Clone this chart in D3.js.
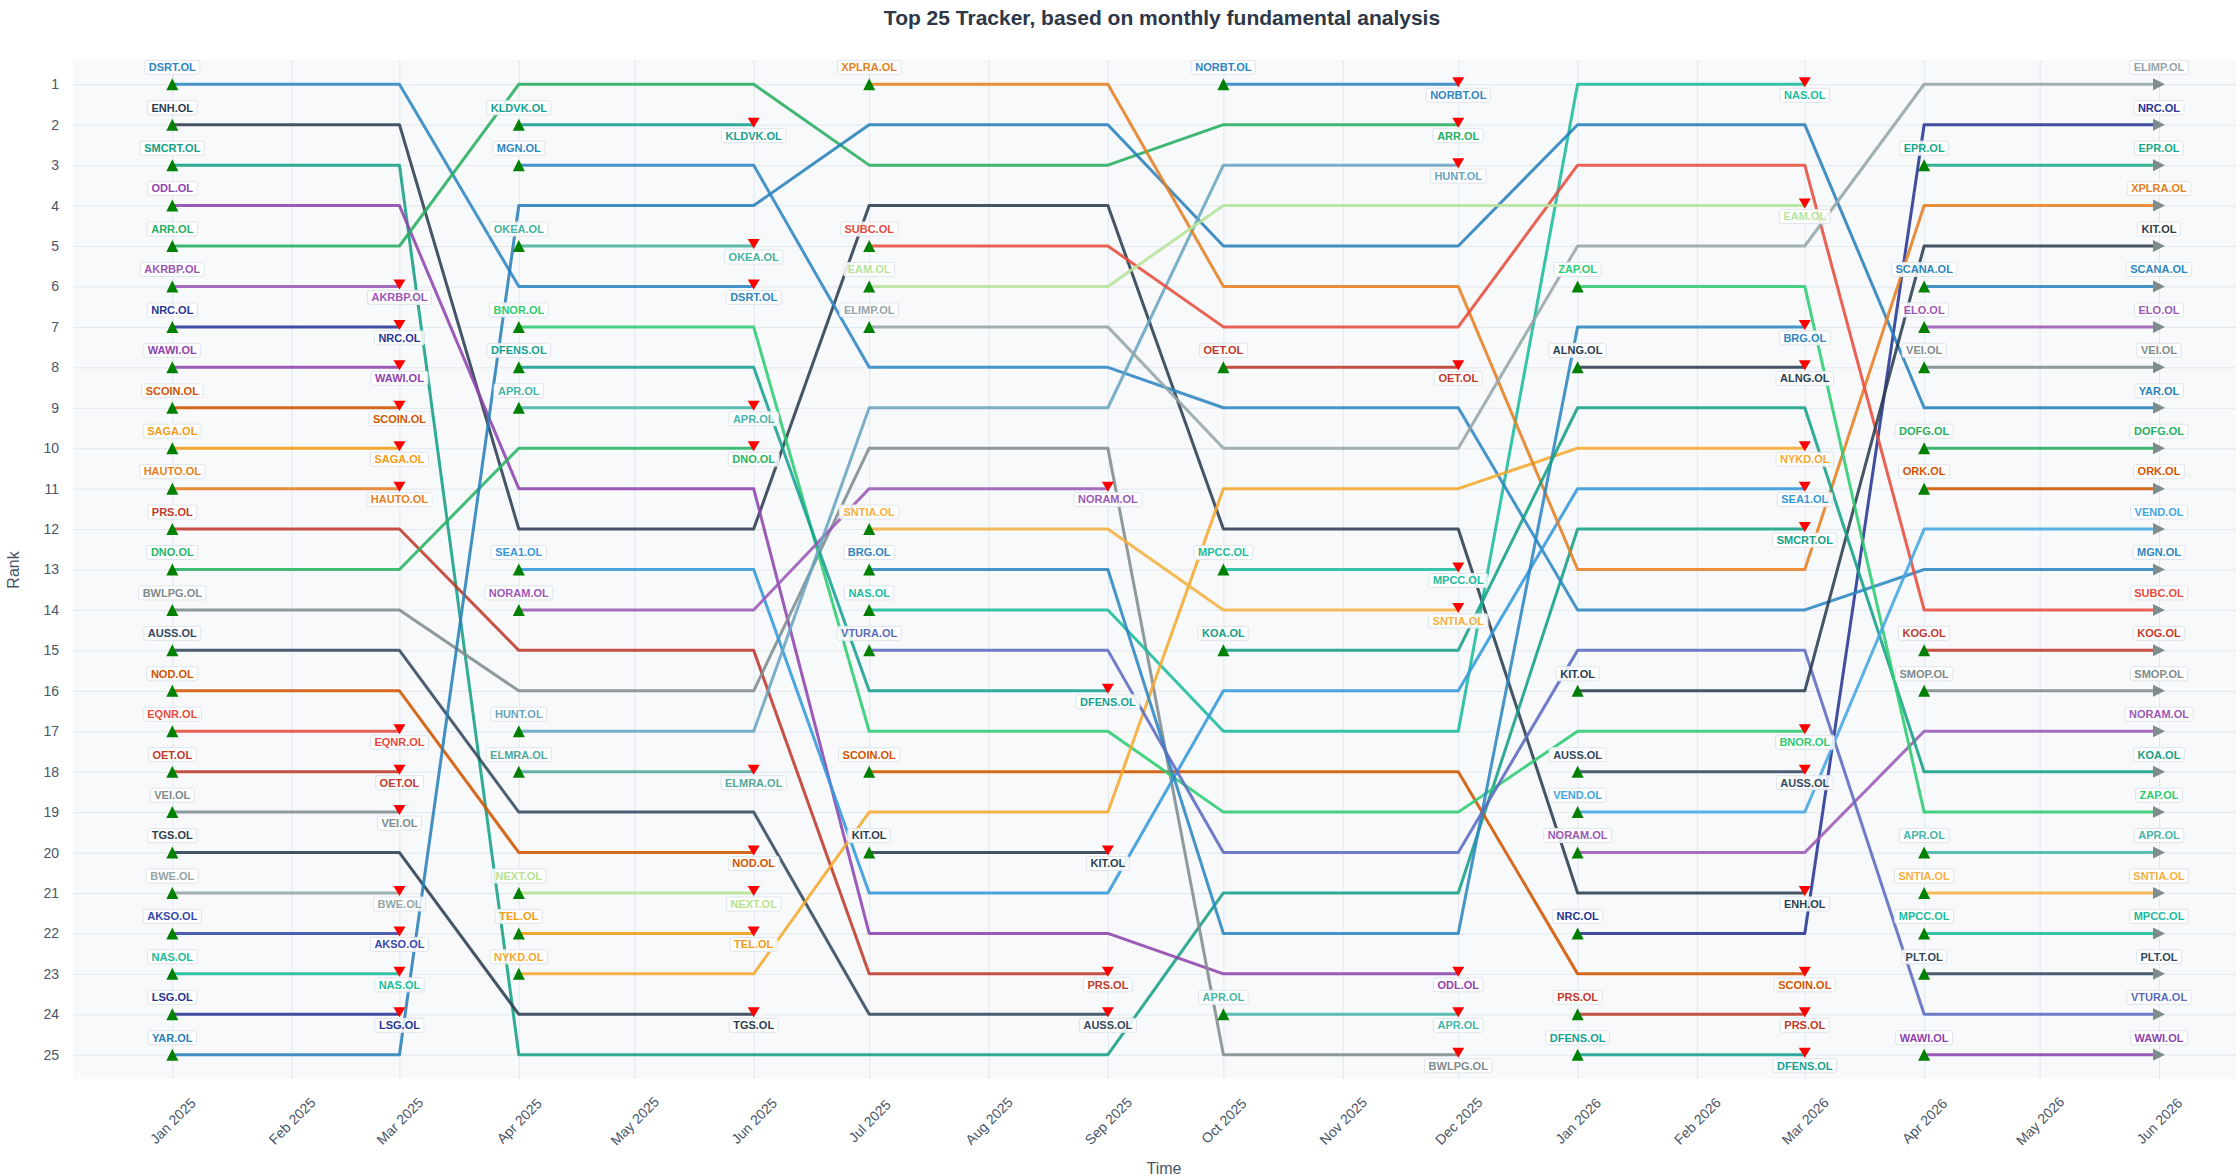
<!DOCTYPE html>
<html><head><meta charset="utf-8">
<script src="https://cdn.jsdelivr.net/npm/d3@7"></script>
<style>
body{margin:0;background:#fff}
svg{display:block;font-family:"Liberation Sans",Arial,Helvetica,sans-serif}
</style>
</head><body>
<svg id="chart" width="2240" height="1176"></svg>
<script>
// ---------------- DATA ----------------
const snapshotDates = ["2025-01-01","2025-04-01","2025-07-01","2025-10-01","2026-01-01","2026-04-01"];

// each list is the top 25 at that snapshot, ordered from rank 1 to rank 25
const ranksJan2025 = ["DSRT.OL","ENH.OL","SMCRT.OL","ODL.OL","ARR.OL","AKRBP.OL","NRC.OL","WAWI.OL","SCOIN.OL","SAGA.OL","HAUTO.OL","PRS.OL","DNO.OL","BWLPG.OL","AUSS.OL","NOD.OL","EQNR.OL","OET.OL","VEI.OL","TGS.OL","BWE.OL","AKSO.OL","NAS.OL","LSG.OL","YAR.OL"];
const ranksApr2025 = ["ARR.OL","KLDVK.OL","MGN.OL","YAR.OL","OKEA.OL","DSRT.OL","BNOR.OL","DFENS.OL","APR.OL","DNO.OL","ODL.OL","ENH.OL","SEA1.OL","NORAM.OL","PRS.OL","BWLPG.OL","HUNT.OL","ELMRA.OL","AUSS.OL","NOD.OL","NEXT.OL","TEL.OL","NYKD.OL","TGS.OL","SMCRT.OL"];
const ranksJul2025 = ["XPLRA.OL","YAR.OL","ARR.OL","ENH.OL","SUBC.OL","EAM.OL","ELIMP.OL","MGN.OL","HUNT.OL","BWLPG.OL","NORAM.OL","SNTIA.OL","BRG.OL","NAS.OL","VTURA.OL","DFENS.OL","BNOR.OL","SCOIN.OL","NYKD.OL","KIT.OL","SEA1.OL","ODL.OL","PRS.OL","AUSS.OL","SMCRT.OL"];
const ranksOct2025 = ["NORBT.OL","ARR.OL","HUNT.OL","EAM.OL","YAR.OL","XPLRA.OL","SUBC.OL","OET.OL","MGN.OL","ELIMP.OL","NYKD.OL","ENH.OL","MPCC.OL","SNTIA.OL","KOA.OL","SEA1.OL","NAS.OL","SCOIN.OL","BNOR.OL","VTURA.OL","SMCRT.OL","BRG.OL","ODL.OL","APR.OL","BWLPG.OL"];
const ranksJan2026 = ["NAS.OL","YAR.OL","SUBC.OL","EAM.OL","ELIMP.OL","ZAP.OL","BRG.OL","ALNG.OL","KOA.OL","NYKD.OL","SEA1.OL","SMCRT.OL","XPLRA.OL","MGN.OL","VTURA.OL","KIT.OL","BNOR.OL","AUSS.OL","VEND.OL","NORAM.OL","ENH.OL","NRC.OL","SCOIN.OL","PRS.OL","DFENS.OL"];
const ranksApr2026 = ["ELIMP.OL","NRC.OL","EPR.OL","XPLRA.OL","KIT.OL","SCANA.OL","ELO.OL","VEI.OL","YAR.OL","DOFG.OL","ORK.OL","VEND.OL","MGN.OL","SUBC.OL","KOG.OL","SMOP.OL","NORAM.OL","KOA.OL","ZAP.OL","APR.OL","SNTIA.OL","MPCC.OL","PLT.OL","VTURA.OL","WAWI.OL"];

const snapshotRanks = [ranksJan2025, ranksApr2025, ranksJul2025, ranksOct2025, ranksJan2026, ranksApr2026];

const monthTicks = ["2025-01-01","2025-02-01","2025-03-01","2025-04-01","2025-05-01","2025-06-01","2025-07-01","2025-08-01","2025-09-01","2025-10-01","2025-11-01","2025-12-01","2026-01-01","2026-02-01","2026-03-01","2026-04-01","2026-05-01","2026-06-01"];
const rankTicks = [1,2,3,4,5,6,7,8,9,10,11,12,13,14,15,16,17,18,19,20,21,22,23,24,25];

// ---------------- STYLE ----------------
const tickerColors = {
  "DSRT.OL":"#2e86c1","ENH.OL":"#2c3e50","SMCRT.OL":"#16a085","ODL.OL":"#8e44ad","ARR.OL":"#27ae60",
  "AKRBP.OL":"#9b59b6","NRC.OL":"#283593","WAWI.OL":"#8e44ad","SCOIN.OL":"#d35400","SAGA.OL":"#f39c12",
  "HAUTO.OL":"#e67e22","PRS.OL":"#c0392b","DNO.OL":"#28b463","BWLPG.OL":"#7f8c8d","AUSS.OL":"#34495e",
  "NOD.OL":"#d35400","EQNR.OL":"#e74c3c","OET.OL":"#c0392b","VEI.OL":"#7f8c8d","TGS.OL":"#2c3e50",
  "BWE.OL":"#95a5a6","AKSO.OL":"#3949ab","NAS.OL":"#1abc9c","LSG.OL":"#283593","YAR.OL":"#2980b9",
  "KLDVK.OL":"#17a192","MGN.OL":"#2e86c1","OKEA.OL":"#45b39d","BNOR.OL":"#2ecc71","DFENS.OL":"#17a192",
  "APR.OL":"#48b5a8","SEA1.OL":"#3498db","NORAM.OL":"#9b59b6","HUNT.OL":"#6aa5c0","ELMRA.OL":"#52a89b",
  "NEXT.OL":"#b7e28f","TEL.OL":"#f39c12","NYKD.OL":"#f5a82f","XPLRA.OL":"#e67e22","SUBC.OL":"#e74c3c",
  "EAM.OL":"#b6e39b","ELIMP.OL":"#95a5a6","SNTIA.OL":"#f5b041","BRG.OL":"#2e86c1","VTURA.OL":"#5c6bc0",
  "KIT.OL":"#2c3e50","NORBT.OL":"#2e86c1","MPCC.OL":"#1abc9c","KOA.OL":"#16a085","ZAP.OL":"#2ecc71",
  "ALNG.OL":"#2c3e50","VEND.OL":"#45a5e0","EPR.OL":"#1aa88a","SCANA.OL":"#2e86c1","ELO.OL":"#9b59b6",
  "DOFG.OL":"#27ae60","ORK.OL":"#d35400","KOG.OL":"#c0392b","SMOP.OL":"#7f8c8d","PLT.OL":"#34495e"
};

const W = 2240, H = 1176;
const plot = {left:73, right:2236, top:60, bottom:1079};
const parse = d3.utcParse("%Y-%m-%d");
const snapDates = snapshotDates.map(parse);
const tickDates = monthTicks.map(parse);

const x = d3.scaleUtc().domain([parse("2025-01-01"), parse("2026-06-01")]).range([172.3, 2159]);
const y = d3.scaleLinear().domain([0.4, 25.6]).range([plot.top, plot.bottom]);

const svg = d3.select("#chart");

// background
svg.append("rect").attr("x",0).attr("y",0).attr("width",W).attr("height",H).attr("fill","#fff");
svg.append("rect").attr("x",plot.left).attr("y",plot.top)
  .attr("width",plot.right-plot.left).attr("height",plot.bottom-plot.top).attr("fill","#f7f9fb");

// grid via axes
const gridY = svg.append("g").attr("transform",`translate(${plot.left},0)`)
  .call(d3.axisLeft(y).tickValues(rankTicks).tickSize(-(plot.right-plot.left)).tickFormat(""));
gridY.select(".domain").remove();
gridY.selectAll("line").attr("stroke","#e1e8ef").attr("stroke-width",1);

const gridX = svg.append("g").attr("transform",`translate(0,${plot.bottom})`)
  .call(d3.axisBottom(x).tickValues(tickDates).tickSize(-(plot.bottom-plot.top)).tickFormat(""));
gridX.select(".domain").remove();
gridX.selectAll("line").attr("stroke","#e1e8ef").attr("stroke-width",1);

// axes labels
const yAxis = svg.append("g").attr("transform",`translate(${plot.left},0)`)
  .call(d3.axisLeft(y).tickValues(rankTicks).tickSize(0).tickPadding(14));
yAxis.select(".domain").remove();
yAxis.selectAll("text").attr("font-size",14).attr("fill","#4a5568")
  .attr("font-family",'"Liberation Sans",Arial,sans-serif');

const xAxis = svg.append("g").attr("transform",`translate(0,${plot.bottom})`)
  .call(d3.axisBottom(x).tickValues(tickDates).tickSize(0).tickFormat(d3.utcFormat("%b %Y")));
xAxis.select(".domain").remove();
xAxis.selectAll("text")
  .attr("font-size",14).attr("fill","#4a5568")
  .attr("font-family",'"Liberation Sans",Arial,sans-serif')
  .attr("text-anchor","middle").attr("y",0).attr("dy","0.35em")
  .attr("transform","translate(0,42) rotate(-45)");

// titles
svg.append("text").attr("x",1162).attr("y",25).attr("text-anchor","middle")
  .attr("font-size",21).attr("font-weight","bold").attr("fill","#2d3748")
  .text("Top 25 Tracker, based on monthly fundamental analysis");
svg.append("text").attr("transform","translate(19,570) rotate(-90)").attr("text-anchor","middle")
  .attr("font-size",16).attr("fill","#4a5568").text("Rank");
svg.append("text").attr("x",1164).attr("y",1174).attr("text-anchor","middle")
  .attr("font-size",16).attr("fill","#4a5568").text("Time");

// ---------------- BUILD SEGMENTS ----------------
const paths = [];   // {ticker, points:[{date,rank}]}
const events = [];  // {type, ticker, date, rank}
const allTickers = Array.from(new Set(snapshotRanks.flat()));
const last = snapDates.length - 1;
allTickers.forEach(t => {
  let cur = null;
  snapshotRanks.forEach((list, i) => {
    const idx = list.indexOf(t);
    if (idx < 0) return;
    const r = idx + 1;
    const d0 = snapDates[i];
    const d1 = d3.utcMonth.offset(d0, 2);
    if (!cur) { cur = {ticker:t, points:[]}; paths.push(cur); events.push({type:"entry", ticker:t, date:d0, rank:r}); }
    cur.points.push({date:d0, rank:r}, {date:d1, rank:r});
    const nextPresent = i < last && snapshotRanks[i+1].indexOf(t) >= 0;
    if (!nextPresent) {
      events.push({type: i === last ? "end" : "exit", ticker:t, date:d1, rank:r});
      cur = null;
    }
  });
});

const line = d3.line().x(d => x(d.date)).y(d => y(d.rank));
svg.append("g").attr("fill","none").selectAll("path").data(paths).join("path")
  .attr("d", d => line(d.points))
  .attr("stroke", d => tickerColors[d.ticker])
  .attr("stroke-width", 3).attr("stroke-opacity", 0.88)
  .attr("stroke-linejoin","round");

// markers
const mk = svg.append("g");
events.forEach(e => {
  const cx = x(e.date), cy = y(e.rank);
  let p, fill;
  if (e.type === "entry") { p = `M${cx-6},${cy+6}L${cx+6},${cy+6}L${cx},${cy-6}Z`; fill = "#008000"; }
  else if (e.type === "exit") { p = `M${cx-6},${cy-7}L${cx+6},${cy-7}L${cx},${cy+3}Z`; fill = "#ff0000"; }
  else { p = `M${cx-6},${cy-6}L${cx-6},${cy+6}L${cx+6},${cy}Z`; fill = "#7f8c8d"; }
  mk.append("path").attr("d", p).attr("fill", fill);
});

// labels
const lb = svg.append("g");
events.forEach(e => {
  const cx = x(e.date), cy = y(e.rank) + (e.type === "exit" ? 11 : -17);
  const g = lb.append("g");
  const rect = g.append("rect");
  const txt = g.append("text").attr("x", cx).attr("y", cy).attr("dy","0.35em")
    .attr("text-anchor","middle").attr("font-size",11).attr("font-weight","bold")
    .attr("fill", tickerColors[e.ticker]).text(e.ticker);
  const w = txt.node().getComputedTextLength() + 8;
  rect.attr("x", cx - w/2).attr("y", cy - 7).attr("width", w).attr("height", 14)
    .attr("rx", 2).attr("fill","#ffffff").attr("fill-opacity",0.85)
    .attr("stroke","#dfe5ec").attr("stroke-width",1);
});
</script>
</body></html>
